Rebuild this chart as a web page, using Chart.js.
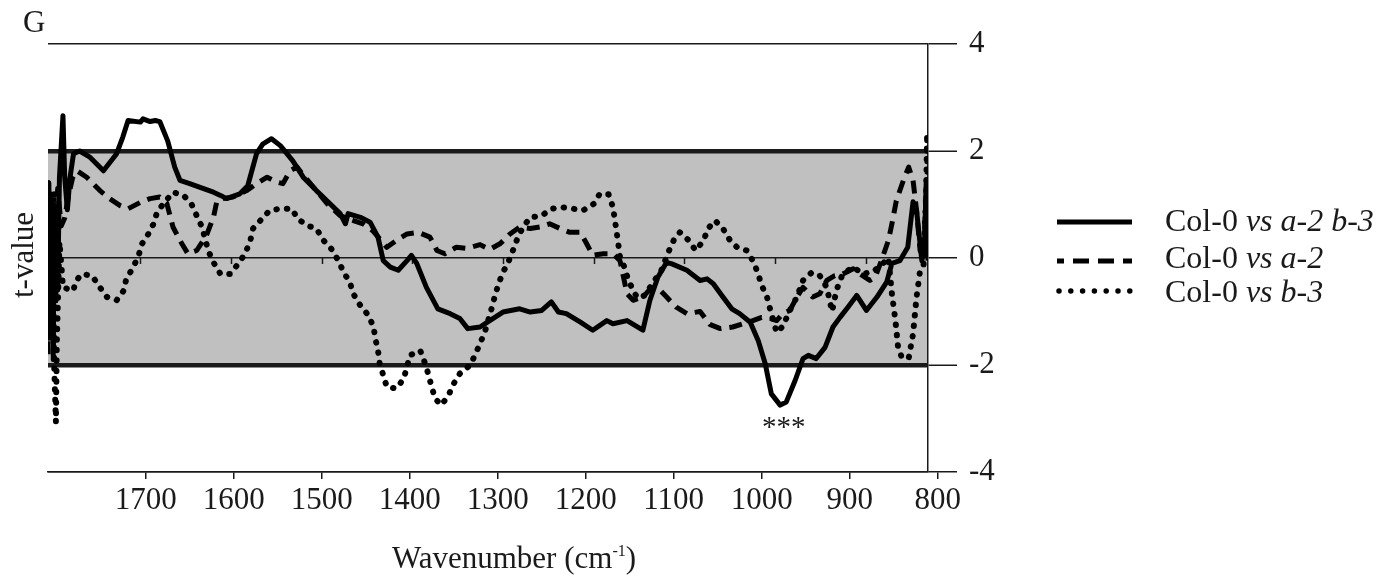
<!DOCTYPE html>
<html lang="en">
<head>
  <meta charset="UTF-8">
  <title>t-value spectrum G</title>
  <script src="https://cdn.jsdelivr.net/npm/chart.js@4"></script>
  <style>
    body {
      margin: 0;
      background: #fff;
      font-family: "Liberation Serif", "Times New Roman", serif;
      color: #1a1a1a;
    }
    #wrap {
      position: relative;
      width: 1383px;
      height: 586px;
    }
    .lbl {
      position: absolute;
      font-size: 31px;
      line-height: 1;
      white-space: nowrap;
    }
    #legendLines {
      position: absolute;
      left: 0;
      top: 0;
    }
  </style>
</head>
<body>
  <div id="wrap">
    <canvas id="tChart" width="1383" height="586"></canvas>
    <div class="lbl" style="left:23px;top:6px;font-size:31px">G</div>
    <div class="lbl" style="left:22px;top:255px;transform:translate(-50%,-50%) rotate(-90deg)">t-value</div>
    <div class="lbl" style="left:514px;top:542px;transform:translateX(-50%)">Wavenumber (cm<span style="position:relative;top:-12px;font-size:16px">-1</span>)</div>
    <div id="legend"></div>
  </div>

  <script>
    // series: t-values, x = wavenumber (cm-1)
    const control = 'Col-0';
    const mutants = ['a-2 b-3', 'a-2', 'b-3'];

    const wnAB = [1811,1810,1809,1808,1807,1806,1805,1804,1803,1802,1800,1798,1794,1792,1789,1786,1782,1775,1763,1748,1733,1726,1720,1706,1703,1695,
      1689,1684,1675,1667,1661,1650,1635,1623,1615,1608,1593,1584,1574,1567,1557,1547,1533,1521,1506,1494,
      1479,1473,1470,1456,1445,1436,1430,1422,1413,1403,1398,1392,1381,1368,1354,1343,1334,1320,1309,1294,
      1275,1263,1250,1239,1231,1222,1206,1192,1176,1169,1153,1135,1127,1118,1108,1102,1085,1070,1062,1055,
      1044,1034,1025,1013,1004,996,989,979,972,962,953,947,938,928,919,911,902,892,881,869,
      858,852,843,834,828,824,818,815,813,811];
    const tAB = [-1.5,0.8,-1.3,1.2,-1.0,0.6,-1.6,1.0,-0.8,0.3,-0.6,1.5,2.66,1.5,0.9,1.5,1.95,2.0,1.88,1.63,1.95,2.26,2.57,2.54,2.6,2.55,
      2.57,2.55,2.19,1.70,1.45,1.39,1.30,1.23,1.17,1.11,1.2,1.35,1.95,2.13,2.23,2.1,1.82,1.51,1.26,1.07,
      0.83,0.64,0.83,0.76,0.67,0.39,-0.05,-0.17,-0.23,-0.05,0.05,-0.1,-0.55,-0.95,-1.04,-1.13,-1.32,-1.29,-1.17,-1.01,
      -0.95,-1.01,-0.98,-0.82,-1.01,-1.04,-1.2,-1.35,-1.17,-1.23,-1.17,-1.35,-0.79,-0.36,-0.08,-0.11,-0.23,-0.42,-0.39,-0.48,
      -0.73,-0.95,-1.04,-1.2,-1.54,-1.97,-2.54,-2.75,-2.69,-2.29,-1.88,-1.82,-1.88,-1.67,-1.29,-1.11,-0.92,-0.70,-0.98,-0.73,
      -0.45,-0.1,-0.05,0.2,1.05,0.89,-0.05,0.2,1.45,-0.05];

    const wnA2 = [1811,1810,1809,1808,1807,1806,1805,1804,1803,1802,1800,1796,1792,1788,1783,1778,1767,1752,1741,1729,1720,1706,1695,1684,1676,
      1669,1659,1652,1642,1631,1623,1619,1612,1601,1585,1574,1562,1551,1544,1536,1528,1521,1506,1494,1479,
      1464,1453,1442,1426,1415,1403,1390,1377,1369,1360,1347,1335,1320,1309,1297,1286,1275,1263,1252,1241,
      1229,1218,1206,1199,1192,1180,1169,1161,1157,1153,1146,1135,1125,1115,1108,1097,1085,1070,1059,1047,
      1033,1021,1010,1000,990,983,976,968,960,953,942,934,926,917,908,896,888,877,871,864,
      856,852,847,839,833,828,824,820,816,813,811];
    const tA2 = [-1.8,1.4,-1.6,1.1,-1.4,0.8,-1.9,1.2,-0.9,0.5,1.3,0.6,0.75,1.14,1.5,1.63,1.51,1.26,1.11,0.98,0.92,1.04,1.11,1.14,1.02,
      0.58,0.27,0.08,0.14,0.42,0.76,1.07,1.11,1.14,1.26,1.39,1.51,1.42,1.39,1.63,1.70,1.55,1.26,1.02,0.79,
      0.70,0.64,0.51,0.2,0.33,0.45,0.48,0.39,0.14,0.08,0.2,0.18,0.25,0.16,0.27,0.45,0.58,0.55,0.58,0.64,
      0.55,0.48,0.48,0.27,0.05,0.08,0.08,-0.05,-0.36,-0.67,-0.79,-0.73,-0.55,-0.61,-0.73,-0.92,-1.04,-1.0,-1.24,-1.32,
      -1.29,-1.23,-1.17,-1.11,-1.13,-1.17,-1.04,-0.98,-0.73,-0.55,-0.73,-0.67,-0.42,-0.33,-0.30,-0.2,-0.3,-0.42,-0.36,-0.05,
      0.33,0.64,1.07,1.45,1.70,1.45,0.89,0.14,0.02,1.32,0.05];

    const wnB3 = [1811,1809,1806,1804,1802,1801,1798,1796,1794,1782,1780,1773,1761,1752,1744,1733,1725,1722,1714,1708,
      1704,1697,1691,1687,1680,1669,1657,1648,1642,1636,1629,1623,1615,1604,1595,1587,1581,1578,1568,1559,
      1547,1534,1527,1517,1506,1498,1489,1481,1475,1468,1464,1456,1447,1441,1439,1436,1434,1430,1426,1415,
      1407,1403,1400,1388,1383,1379,1375,1371,1364,1356,1350,1343,1331,1326,1320,1314,1307,1303,1299,1294,
      1288,1282,1277,1271,1263,1250,1239,1227,1214,1203,1191,1184,1174,1169,1167,1165,1163,1161,1156,1152,
      1146,1141,1133,1123,1114,1106,1100,1093,1083,1075,1066,1061,1053,1044,1036,1028,1017,1009,1004,1000,
      994,990,983,975,970,960,953,943,934,926,920,915,908,896,885,873,862,856,852,848,
      845,841,833,828,824,820,816,813,812,811];
    const tB3 = [1.4,-1.0,0.9,-2.0,-3.07,-1.6,0.3,-0.1,-0.55,-0.61,-0.45,-0.3,-0.33,-0.55,-0.73,-0.79,-0.61,-0.39,-0.17,0.05,
      0.27,0.45,0.64,0.86,1.01,1.23,1.17,1.01,0.79,0.58,0.14,-0.08,-0.3,-0.3,-0.11,0.08,0.33,0.55,0.73,0.89,
      0.92,0.92,0.73,0.61,0.55,0.33,0.17,-0.05,-0.27,-0.45,-0.67,-0.89,-1.07,-1.29,-1.51,-1.73,-1.98,-2.19,-2.41,-2.44,
      -2.26,-2.04,-1.82,-1.73,-1.95,-2.16,-2.41,-2.63,-2.75,-2.57,-2.35,-2.16,-2.0,-1.82,-1.6,-1.35,-0.95,-0.7,-0.48,-0.27,
      -0.08,0.17,0.39,0.58,0.76,0.79,0.92,0.95,0.92,0.89,1.01,1.2,1.19,0.95,0.73,0.51,0.27,0.02,-0.17,-0.39,
      -0.61,-0.75,-0.7,-0.45,-0.23,0.11,0.33,0.48,0.33,0.14,0.33,0.55,0.7,0.55,0.33,0.2,0.14,-0.08,-0.3,-0.51,
      -0.73,-0.98,-1.39,-1.26,-1.04,-0.73,-0.42,-0.27,-0.33,-0.55,-1.0,-0.6,-0.3,-0.17,-0.3,-0.25,-0.1,0.0,-0.67,-1.17,
      -1.67,-1.85,-1.88,-1.42,-0.73,-0.23,-0.12,1.26,2.32,-0.1];

    const xTicks = [1700, 1600, 1500, 1400, 1300, 1200, 1100, 1000, 900, 800];
    const yTicks = [-4, -2, 0, 2, 4];
    const zeroLineTicks = [1706, 1603, 1500, 1397, 1294, 1191, 1088, 985, 882]; // small marks under t = 0
    const sigLevel = 2;          // |t| band shaded grey
    const starsText = '***';
    const starsAt = [975, -3.32]; // wavenumber, t

    const serif = 'Liberation Serif';
    const ink = '#1a1a1a';
    const lineStyles = [
      { dash: [], width: 5, cap: 'butt' },
      { dash: [13, 8], width: 5, cap: 'butt' },
      { dash: [0.5, 10], width: 6, cap: 'round' }
    ];

    const toPoints = (xs, ys) => xs.map((x, i) => ({ x: x, y: ys[i] }));
    const series = [toPoints(wnAB, tAB), toPoints(wnA2, tA2), toPoints(wnB3, tB3)];

    // grey band, small zero-line marks, significance stars
    const bandPlugin = {
      id: 'band',
      beforeDraw(chart) {
        const { ctx, chartArea, scales } = chart;
        const top = scales.y.getPixelForValue(sigLevel);
        const bottom = scales.y.getPixelForValue(-sigLevel);
        ctx.save();
        ctx.fillStyle = '#c0c0c0';
        ctx.fillRect(chartArea.left, top, chartArea.right - chartArea.left, bottom - top);
        ctx.restore();
      },
      beforeDatasetsDraw(chart) {
        const { ctx, scales } = chart;
        const y0 = scales.y.getPixelForValue(0);
        ctx.save();
        ctx.strokeStyle = ink;
        ctx.lineWidth = 1.5;
        ctx.beginPath();
        zeroLineTicks.forEach(v => {
          const px = Math.round(scales.x.getPixelForValue(v)) + 0.5;
          ctx.moveTo(px, y0);
          ctx.lineTo(px, y0 + 6);
        });
        ctx.stroke();
        ctx.restore();
      },
      afterDatasetsDraw(chart) {
        const { ctx, scales } = chart;
        ctx.save();
        ctx.fillStyle = ink;
        ctx.font = '29px "' + serif + '"';
        ctx.textAlign = 'center';
        ctx.textBaseline = 'alphabetic';
        ctx.fillText(starsText, scales.x.getPixelForValue(starsAt[0]), scales.y.getPixelForValue(starsAt[1]));
        ctx.restore();
      }
    };

    const ctx = document.getElementById('tChart').getContext('2d');
    new Chart(ctx, {
      type: 'line',
      data: {
        datasets: series.map((pts, i) => ({
          label: control + ' vs ' + mutants[i],
          data: pts,
          borderColor: '#000',
          borderWidth: lineStyles[i].width,
          borderDash: lineStyles[i].dash,
          borderCapStyle: lineStyles[i].cap,
          borderJoinStyle: 'round',
          pointRadius: 0,
          tension: 0,
          fill: false
        }))
      },
      options: {
        responsive: false,
        animation: false,
        layout: { padding: { left: 48, right: 375, top: 44, bottom: 64 } },
        plugins: {
          legend: { display: false },
          tooltip: { enabled: false }
        },
        scales: {
          x: {
            type: 'linear',
            reverse: true,
            min: 811,
            max: 1811,
            afterBuildTicks: s => { s.ticks = xTicks.map(v => ({ value: v })); },
            afterFit: s => { s.height = 50; },
            grid: { drawOnChartArea: false, color: ink, lineWidth: 1.5, tickLength: 7 },
            border: { color: ink, width: 1.5 },
            ticks: {
              font: { family: serif, size: 31 },
              color: ink,
              padding: 3,
              maxRotation: 0,
              autoSkip: false,
              callback: v => String(v)
            }
          },
          y: {
            position: 'right',
            min: -4,
            max: 4,
            afterBuildTicks: s => { s.ticks = yTicks.map(v => ({ value: v })); },
            afterFit: s => { s.width = 80; },
            grid: {
              color: ink,
              lineWidth: c => Math.abs(c.tick.value) === sigLevel ? 4.5 : 1.5,
              tickWidth: 1.5,
              tickLength: 29
            },
            border: { color: ink, width: 1.5 },
            ticks: {
              font: { family: serif, size: 31 },
              color: ink,
              padding: 12,
              callback: v => String(v)
            }
          }
        }
      },
      plugins: [bandPlugin]
    });

    // legend with italic parts, line samples in svg
    const legendRows = [
      { top: 204, lineY: 222 },
      { top: 241, lineY: 261 },
      { top: 275, lineY: 291 }
    ];
    let svg = '<svg id="legendLines" width="1383" height="586">';
    svg += '<line x1="1057" y1="' + legendRows[0].lineY + '" x2="1132" y2="' + legendRows[0].lineY + '" stroke="#000" stroke-width="5"/>';
    svg += '<line x1="1057" y1="' + legendRows[1].lineY + '" x2="1132" y2="' + legendRows[1].lineY + '" stroke="#000" stroke-width="5" stroke-dasharray="16 9" stroke-dashoffset="9"/>';
    svg += '<line x1="1059" y1="' + legendRows[2].lineY + '" x2="1130" y2="' + legendRows[2].lineY + '" stroke="#000" stroke-width="5.5" stroke-linecap="round" stroke-dasharray="0 11.8"/>';
    svg += '</svg>';
    let html = svg;
    mutants.forEach((m, i) => {
      html += '<div class="lbl" style="left:1165px;top:' + legendRows[i].top + 'px;font-size:32px">' + control + ' <i>vs ' + m + '</i></div>';
    });
    document.getElementById('legend').innerHTML = html;
  </script>
</body>
</html>
